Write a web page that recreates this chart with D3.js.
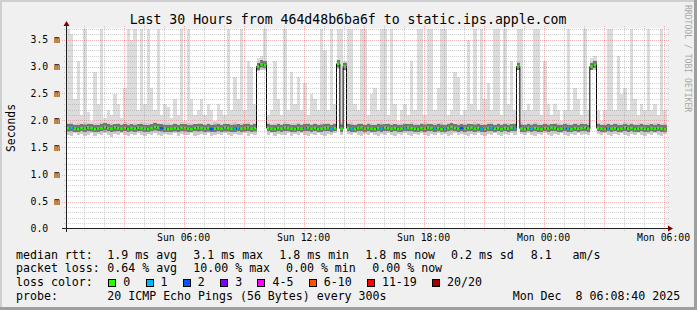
<!DOCTYPE html>
<html>
<head>
<meta charset="utf-8">
<script src="https://cdn.jsdelivr.net/npm/d3@7"></script>
<style>
	body { margin: 0; background: #f0f0f0; }
	svg text { font-family: 'DejaVu Sans Mono', monospace; white-space: pre; }
</style>
</head>
<body>
<div id="chart"></div>
<script>

// one value per 10 minute step, Sun 00:08:40 -> Mon 06:08:40 (ms)
const median = [
	1.86,1.87,1.85,1.84,1.86,1.85,1.87,1.86,1.84,1.85,1.86,1.88,1.86,1.85,1.87,1.86,1.85,1.86,1.84,1.86,
	1.85,1.87,1.86,1.85,1.84,1.86,1.88,1.87,1.86,1.85,1.84,1.85,1.86,1.85,1.87,1.86,1.85,1.84,1.86,1.87,
	1.86,1.85,1.86,1.84,1.85,1.86,1.85,1.87,1.86,1.85,1.84,1.86,1.85,1.86,1.87,1.85,1.86,3.00,3.04,3.02,
	1.86,1.85,1.84,1.86,1.85,1.87,1.86,1.85,1.84,1.86,1.85,1.86,1.87,1.85,1.86,1.84,1.85,1.86,1.87,1.85,
	1.86,3.05,1.85,3.00,1.86,1.85,1.84,1.86,1.87,1.85,1.86,1.85,1.84,1.86,1.85,1.87,1.86,1.85,1.86,1.84,
	1.85,1.86,1.87,1.86,1.85,1.84,1.86,1.85,1.87,1.86,1.85,1.86,1.84,1.85,1.86,1.88,1.86,1.85,1.86,1.85,
	1.86,1.87,1.85,1.86,1.84,1.85,1.86,1.87,1.85,1.86,1.84,1.86,1.85,1.87,1.86,3.00,1.85,1.84,1.86,1.85,
	1.86,1.85,1.84,1.86,1.85,1.87,1.86,1.84,1.85,1.86,1.85,1.84,1.86,1.85,1.86,1.87,1.85,3.00,3.03,1.86,
	1.85,1.84,1.86,1.85,1.86,1.84,1.85,1.87,1.85,1.86,1.84,1.85,1.86,1.85,1.84,1.86,1.85,1.86,1.85,1.84
];

const pingMin = [
	1.74,1.72,1.76,1.73,1.75,1.71,1.74,1.76,1.72,1.75,1.73,1.76,1.74,1.70,1.75,1.73,1.76,1.74,1.72,1.75,
	1.73,1.76,1.74,1.71,1.75,1.73,1.76,1.74,1.72,1.75,1.73,1.74,1.76,1.72,1.75,1.74,1.73,1.76,1.71,1.74,
	1.75,1.73,1.76,1.72,1.74,1.75,1.73,1.76,1.74,1.72,1.75,1.73,1.74,1.76,1.72,1.75,1.74,2.92,2.94,2.93,
	1.74,1.76,1.72,1.75,1.73,1.74,1.76,1.71,1.75,1.73,1.76,1.74,1.72,1.75,1.73,1.76,1.74,1.72,1.75,1.73,
	1.76,2.95,1.74,2.93,1.75,1.73,1.76,1.74,1.72,1.75,1.73,1.76,1.74,1.72,1.75,1.73,1.76,1.74,1.71,1.75,
	1.73,1.76,1.74,1.72,1.75,1.73,1.76,1.74,1.72,1.75,1.74,1.76,1.73,1.75,1.72,1.74,1.76,1.73,1.75,1.74,
	1.72,1.75,1.73,1.76,1.74,1.72,1.75,1.73,1.76,1.74,1.71,1.75,1.73,1.76,1.74,2.93,1.75,1.73,1.76,1.74,
	1.72,1.75,1.73,1.76,1.74,1.72,1.75,1.73,1.76,1.74,1.72,1.75,1.74,1.76,1.73,1.75,1.74,2.93,2.94,1.75,
	1.73,1.76,1.74,1.72,1.75,1.73,1.76,1.74,1.72,1.75,1.73,1.76,1.74,1.72,1.75,1.73,1.76,1.74,1.72,1.75
];

const pingLow = [
	1.79,1.80,1.78,1.79,1.81,1.79,1.80,1.78,1.79,1.80,1.81,1.79,1.80,1.78,1.79,1.80,1.79,1.81,1.78,1.80,
	1.79,1.80,1.81,1.79,1.78,1.80,1.81,1.80,1.79,1.78,1.79,1.80,1.79,1.81,1.80,1.79,1.78,1.80,1.81,1.79,
	1.80,1.79,1.78,1.80,1.79,1.81,1.80,1.79,1.78,1.80,1.79,1.80,1.81,1.79,1.80,1.78,1.79,2.96,2.98,2.97,
	1.80,1.79,1.78,1.80,1.79,1.81,1.80,1.79,1.78,1.80,1.79,1.80,1.81,1.79,1.80,1.78,1.79,1.80,1.81,1.79,
	1.80,2.98,1.79,2.96,1.80,1.79,1.78,1.80,1.81,1.79,1.80,1.79,1.78,1.80,1.79,1.81,1.80,1.79,1.80,1.78,
	1.79,1.80,1.81,1.80,1.79,1.78,1.80,1.79,1.81,1.80,1.79,1.80,1.78,1.79,1.80,1.81,1.80,1.79,1.80,1.79,
	1.80,1.81,1.79,1.80,1.78,1.79,1.80,1.81,1.79,1.80,1.78,1.80,1.79,1.81,1.80,2.96,1.79,1.78,1.80,1.79,
	1.80,1.79,1.78,1.80,1.79,1.81,1.80,1.78,1.79,1.80,1.79,1.78,1.80,1.79,1.80,1.81,1.79,2.96,2.97,1.80,
	1.79,1.78,1.80,1.79,1.80,1.78,1.79,1.81,1.79,1.80,1.78,1.79,1.80,1.79,1.78,1.80,1.79,1.80,1.79,1.78
];

const pingHigh = [
	1.95,1.97,1.94,1.96,1.93,1.97,1.95,1.94,1.96,1.95,1.97,1.94,1.96,1.95,1.93,1.96,1.94,1.97,1.95,1.93,
	1.96,1.94,1.97,1.95,1.96,1.93,1.97,1.95,1.94,1.96,1.95,1.93,1.96,1.94,1.97,1.92,1.96,1.95,1.94,1.96,
	1.95,1.93,1.96,1.94,1.97,1.95,1.94,1.96,1.93,1.95,1.97,1.94,1.96,1.95,1.97,1.94,1.96,3.08,3.12,3.10,
	1.95,1.94,1.96,1.95,1.93,1.97,1.94,1.96,1.95,1.97,1.94,1.96,1.95,1.93,1.96,1.94,1.97,1.95,1.96,1.94,
	1.96,3.12,1.97,3.08,1.95,1.97,1.94,1.96,1.95,1.94,1.96,1.95,1.93,1.96,1.97,1.94,1.95,1.96,1.94,1.93,
	1.95,1.96,1.94,1.97,1.95,1.93,1.96,1.97,1.95,1.94,1.96,1.95,1.97,1.94,1.96,1.95,1.93,1.96,1.94,1.95,
	1.96,1.94,1.97,1.95,1.96,1.94,1.95,1.97,1.94,1.96,1.93,1.95,1.96,1.94,1.95,3.10,1.97,1.94,1.95,1.96,
	1.97,1.95,1.94,1.96,1.95,1.93,1.96,1.95,1.94,1.96,1.95,1.94,1.96,1.95,1.97,1.94,1.95,3.08,3.12,1.95,
	1.94,1.96,1.95,1.93,1.96,1.95,1.94,1.97,1.95,1.96,1.94,1.95,1.96,1.94,1.95,1.93,1.96,1.95,1.94,1.96
];

const pingMax = [
	3.7,3.6,2.4,3.1,2.1,3.7,2.15,2.0,2.9,2.3,3.7,2.05,2.2,2.1,2.5,2.3,2.05,2.6,3.7,3.5,
	3.7,2.2,3.7,2.3,3.7,2.6,2.2,3.7,2.1,2.3,2.25,2.05,2.4,2.1,3.7,2.0,3.7,2.4,2.1,2.2,
	2.4,2.1,2.3,2.2,2.0,2.3,2.2,2.1,3.7,2.2,2.8,2.4,3.7,2.2,3.1,3.0,2.3,3.15,3.2,3.7,
	2.1,2.2,3.1,2.4,2.1,3.7,2.2,2.9,2.3,2.8,2.2,2.7,2.1,2.5,2.4,2.2,3.7,3.3,2.2,3.7,
	2.3,3.7,3.7,3.1,3.7,3.7,2.3,2.2,3.7,3.7,2.1,2.5,2.6,2.2,3.7,3.7,2.1,3.7,2.3,2.0,
	2.2,2.3,2.1,3.1,2.2,3.7,3.7,2.1,3.7,3.7,2.2,2.6,3.7,3.7,2.1,2.2,2.9,2.8,2.1,2.2,
	3.5,2.3,3.7,2.2,3.7,2.4,2.7,2.2,3.7,3.7,2.1,3.7,2.3,3.1,2.2,3.7,3.7,2.2,2.3,2.2,
	3.7,3.7,2.1,3.1,2.3,2.1,2.3,2.2,2.0,2.2,3.7,2.2,2.6,2.4,2.1,3.7,2.2,3.15,3.2,2.2,
	2.0,2.2,3.7,3.7,2.2,3.2,2.5,2.6,2.2,3.7,2.4,2.1,2.3,2.2,3.7,2.2,2.3,2.1,3.7,2.2
];

// lost pings out of 20 per step
const loss = [
	0,1,0,0,0,0,0,0,0,0,0,0,0,0,0,0,0,0,0,0,
	0,0,0,0,0,0,0,0,2,0,0,0,0,0,0,0,0,0,0,0,
	0,0,0,2,0,0,0,0,0,0,1,1,0,0,0,0,0,0,0,0,
	0,0,0,0,0,0,0,0,0,0,0,1,0,0,0,0,0,0,0,1,
	0,0,0,0,0,1,0,0,0,0,0,0,0,0,1,0,0,0,0,0,
	0,1,0,0,0,0,0,0,0,0,1,0,0,1,0,0,0,0,2,0,
	0,0,0,0,1,0,0,1,0,0,0,0,0,0,1,0,0,0,0,1,
	0,0,0,0,0,0,0,0,0,1,1,0,0,0,0,0,0,0,0,0,
	0,0,1,0,0,0,0,0,0,0,0,0,0,0,0,0,0,0,0,0
];

const lossLabels = ['0', '1', '2', '3', '4-5', '6-10', '11-19', '20/20'];
const lossLimits = [0, 1, 2, 3, 5, 10, 19, 20];
const lossColors = ['#26ff00', '#00b8ff', '#0059ff', '#7e00ff', '#ff00ff', '#ff5500', '#ff0000', '#a10000'];

const rttStats = ['1.9 ms avg', '3.1 ms max', '1.8 ms min', '1.8 ms now', '0.2 ms sd', '8.1   am/s'];
const lossStats = ['0.64 % avg', '10.00 % max', '0.00 % min', '0.00 % now'];

const title = 'Last 30 Hours from 464d48b6ba6f to static.ips.apple.com';
const probeText = '20 ICMP Echo Pings (56 Bytes) every 300s';
const stampText = 'Mon Dec  8 06:08:40 2025';

const startTime = new Date(2025, 11, 7, 0, 8, 40);
const endTime = new Date(2025, 11, 8, 6, 8, 40);
const stepMs = 10 * 60 * 1000;


const W = 697, H = 310;

let x = d3.scaleTime()
	.domain([startTime, endTime])
	.range([66.5, 666.5]);

let y = d3.scaleLinear()
	.domain([0, 200 / 54])
	.range([228.5, 28.5]);

let t = i => new Date(startTime.getTime() + i * stepMs);
let top_ = v => Math.min(v, y.domain()[1]);

let svg = d3.select('#chart').append('svg')
	.attr('width', W)
	.attr('height', H);

// background and 3d frame
svg.append('rect').attr('width', W).attr('height', H).attr('fill', '#f0f0f0');
svg.append('rect').attr('x', 0).attr('y', 0).attr('width', W).attr('height', 2).attr('fill', '#cfcfcf');
svg.append('rect').attr('x', 0).attr('y', 0).attr('width', 2).attr('height', H).attr('fill', '#cfcfcf');
svg.append('rect').attr('x', 0).attr('y', H - 3).attr('width', W).attr('height', 3).attr('fill', '#9e9e9e');
svg.append('rect').attr('x', W - 3).attr('y', 0).attr('width', 3).attr('height', H).attr('fill', '#9e9e9e');

// canvas
svg.append('rect')
	.attr('x', x.range()[0])
	.attr('y', y.range()[1])
	.attr('width', x.range()[1] - x.range()[0])
	.attr('height', y.range()[0] - y.range()[1])
	.attr('fill', '#ffffff');

let steps = d3.range(median.length);
let plot = svg.append('g').attr('shape-rendering', 'crispEdges');

// smoke: spikes up to the slowest ping
plot.append('g').selectAll('rect')
	.data(steps)
	.enter()
	.append('rect')
	.attr('x', i => x(t(i)))
	.attr('width', i => x(t(i + 1)) - x(t(i)))
	.attr('y', i => y(top_(pingMax[i])))
	.attr('height', i => y(pingHigh[i]) - y(top_(pingMax[i])))
	.attr('fill', '#dcdcdc');

// outer smoke band
plot.append('g').selectAll('rect')
	.data(steps)
	.enter()
	.append('rect')
	.attr('x', i => x(t(i)))
	.attr('width', i => x(t(i + 1)) - x(t(i)))
	.attr('y', i => y(pingHigh[i]))
	.attr('height', i => y(pingMin[i]) - y(pingHigh[i]))
	.attr('fill', '#cbcbcb');

// inner smoke band
plot.append('g').selectAll('rect')
	.data(steps)
	.enter()
	.append('rect')
	.attr('x', i => x(t(i)))
	.attr('width', i => x(t(i + 1)) - x(t(i)))
	.attr('y', i => y(pingHigh[i]) + 2)
	.attr('height', i => y(pingLow[i]) - y(pingHigh[i]) - 2)
	.attr('fill', '#a6a6a6');

// dense core round the median
plot.append('g').selectAll('rect')
	.data(steps)
	.enter()
	.append('rect')
	.attr('x', i => x(t(i)))
	.attr('width', i => x(t(i + 1)) - x(t(i)))
	.attr('y', i => y(median[i]) - 4)
	.attr('height', 7)
	.attr('fill', '#747474');

// median line
let medLine = d3.line()
	.x(i => x(t(i)))
	.y(i => y(median[Math.min(i, median.length - 1)]))
	.curve(d3.curveStepAfter);

svg.append('path')
	.attr('d', medLine(d3.range(median.length + 1)))
	.attr('fill', 'none')
	.attr('stroke', '#000000')
	.attr('stroke-width', 1);

let lossClass = n => lossLimits.findIndex(v => n <= v);

svg.append('g').selectAll('line')
	.data(steps)
	.enter()
	.append('line')
	.attr('x1', i => x(t(i)) + 0.3)
	.attr('x2', i => x(t(i + 1)) - 0.3)
	.attr('y1', i => y(median[i]))
	.attr('y2', i => y(median[i]))
	.attr('stroke', i => lossColors[lossClass(loss[i])])
	.attr('stroke-width', 2.5);

// grid (drawn over the data like rrdtool)
let grid = svg.append('g').attr('shape-rendering', 'crispEdges');

let yTicks = d3.range(0, 38).map(k => k / 10).filter(v => v <= y.domain()[1]);
let majorY = v => Math.round(v * 10) % 5 == 0;

grid.selectAll('.hgrid')
	.data(yTicks.slice(1))
	.enter()
	.append('line')
	.attr('x1', v => majorY(v) ? 62 : 64)
	.attr('x2', 669)
	.attr('y1', v => Math.round(y(v)) + 0.5)
	.attr('y2', v => Math.round(y(v)) + 0.5)
	.attr('stroke', v => majorY(v) ? 'rgba(222,80,80,0.42)' : 'rgba(143,143,143,0.42)')
	.attr('stroke-dasharray', '1,1');

let hours = x.ticks(d3.timeHour.every(1));

grid.selectAll('.vgrid')
	.data(hours)
	.enter()
	.append('line')
	.attr('x1', d => Math.round(x(d)) + 0.5)
	.attr('x2', d => Math.round(x(d)) + 0.5)
	.attr('y1', 26)
	.attr('y2', d => d.getHours() % 3 == 0 ? 232 : 231)
	.attr('stroke', d => d.getHours() % 3 == 0 ? 'rgba(222,80,80,0.42)' : 'rgba(143,143,143,0.42)')
	.attr('stroke-dasharray', '1,1');

// axes
svg.append('line')
	.attr('x1', 62).attr('x2', 669)
	.attr('y1', 228.5).attr('y2', 228.5)
	.attr('stroke', '#202020');

svg.append('line')
	.attr('x1', 66.5).attr('x2', 66.5)
	.attr('y1', 232).attr('y2', 24)
	.attr('stroke', '#202020');

svg.append('path')
	.attr('d', 'M668,225.5L673,228.5L668,231.5Z')
	.attr('fill', '#7f0000');

svg.append('path')
	.attr('d', 'M63.5,26L66.5,21L69.5,26Z')
	.attr('fill', '#7f0000');

// tick labels
svg.append('g').selectAll('text')
	.data(yTicks.filter(majorY))
	.enter()
	.append('text')
	.attr('x', 30.5)
	.attr('y', v => y(v) + 3.5)
	.attr('font-size', '9.8px')
	.text(v => d3.format('.1f')(v) + (v == 0 ? '' : ' m'));

let timeFmt = d3.timeFormat('%a %H:%M');

svg.append('g').selectAll('text')
	.data(x.ticks(d3.timeHour.every(6)))
	.enter()
	.append('text')
	.attr('x', d => x(d))
	.attr('y', 241)
	.attr('text-anchor', 'middle')
	.attr('font-size', '9.8px')
	.text(d => timeFmt(d));

// titles
svg.append('text')
	.attr('x', 348)
	.attr('y', 23.5)
	.attr('text-anchor', 'middle')
	.attr('font-size', '13.2px')
	.text(title);

svg.append('text')
	.attr('transform', 'translate(15,128) rotate(-90)')
	.attr('text-anchor', 'middle')
	.attr('font-size', '11.4px')
	.text('Seconds');

svg.append('text')
	.attr('transform', 'translate(685,5) rotate(90)')
	.attr('font-size', '8.1px')
	.attr('fill', '#a8a8a8')
	.text('RRDTOOL / TOBI OETIKER');

// legend
let legend = svg.append('g').attr('font-size', '11.6px');

let row = (label, yy) => legend.append('text').attr('x', 16).attr('y', yy).text(label);

row('median rtt:', 258.5);
let rttX = [107.3, 193.3, 279.3, 365.3, 451, 530.7];
rttStats.forEach((s, i) => {
	legend.append('text').attr('x', rttX[i]).attr('y', 258.5).attr('xml:space', 'preserve').text(s);
});

row('packet loss:', 272.3);
let lossX = [107.3, 193.3, 286, 372.3];
lossStats.forEach((s, i) => {
	legend.append('text').attr('x', lossX[i]).attr('y', 272.3).text(s);
});

row('loss color:', 286);
let sx = 108.3;
lossLabels.forEach((l, i) => {
	legend.append('rect')
		.attr('x', Math.round(sx) + 0.5)
		.attr('y', 279.5)
		.attr('width', 7)
		.attr('height', 7)
		.attr('fill', lossColors[i])
		.attr('stroke', '#000000')
		.attr('shape-rendering', 'crispEdges');
	let txt = legend.append('text').attr('x', sx + 15).attr('y', 286).text(l);
	sx = sx + 15 + txt.node().getComputedTextLength() + 15.3;
});

row('probe:', 299.8);
legend.append('text').attr('x', 107.3).attr('y', 299.8).text(probeText);
legend.append('text').attr('x', 512.7).attr('y', 299.8).attr('xml:space', 'preserve').text(stampText);

</script>
</body>
</html>
